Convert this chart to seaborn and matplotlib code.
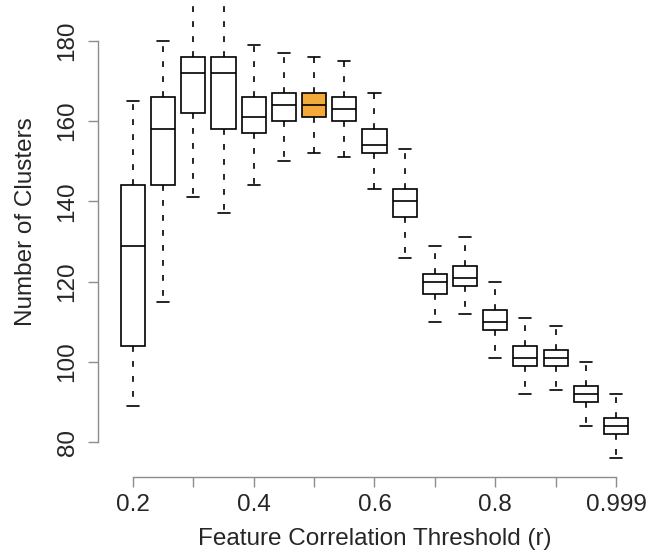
"""boxplot of cluster counts per feature correlation threshold"""
import matplotlib

matplotlib.use("Agg")
import matplotlib.pyplot as plt
import pandas as pd
import seaborn as sns

# values
thresholds = ["0.2", "0.25", "0.3", "0.35", "0.4", "0.45", "0.5", "0.55", "0.6",
              "0.65", "0.7", "0.75", "0.8", "0.85", "0.9", "0.95", "0.999"]
whisker_lo = [89, 115, 141, 137, 144, 150, 152, 151, 143, 126, 110, 112, 101, 92, 93, 84, 76]
q1 = [104, 144, 162, 158, 157, 160, 161, 160, 152, 136, 117, 119, 108, 99, 99, 90, 82]
median = [129, 158, 172, 172, 161, 164, 164, 163, 154, 140, 120, 121, 110, 101, 101, 92, 84]
q3 = [144, 166, 176, 176, 166, 167, 167, 166, 158, 143, 122, 124, 113, 104, 103, 94, 86]
whisker_hi = [165, 180, 196, 199, 179, 177, 176, 175, 167, 153, 129, 131, 120, 111, 109, 100, 92]
highlight = "0.5"
x_labels = ["0.2", "", "0.4", "", "0.6", "", "0.8", "", "0.999"]

# five points per threshold give exact quartiles and whisker ends
rows = []
for i, t in enumerate(thresholds):
    for v in (whisker_lo[i], q1[i], median[i], q3[i], whisker_hi[i]):
        rows.append({"threshold": t, "clusters": v})
df = pd.DataFrame(rows)

palette = {t: ("#F4A93B" if t == highlight else "white") for t in thresholds}

sns.set_style("ticks")
plt.rcParams["font.family"] = ["Liberation Sans", "DejaVu Sans"]

W, H = 655, 558
fig = plt.figure(figsize=(W / 100, H / 100), dpi=100)
left, right, bottom = 113.7, 635.3, 477
ax = fig.add_axes([left / W, (H - bottom) / H, (right - left) / W, bottom / H])

sns.boxplot(
    data=df,
    x="threshold",
    y="clusters",
    hue="threshold",
    order=thresholds,
    palette=palette,
    saturation=1,
    legend=False,
    whis=(0, 100),
    width=0.8,
    linecolor="black",
    linewidth=1.2,
    whiskerprops={"linestyle": (0, (3.5, 5.5))},
    ax=ax,
)

ax.set_xlim(-0.64, 16.64)
ax.set_ylim(71.3, 190.2)

for s in ["top", "right"]:
    ax.spines[s].set_visible(False)
for s in ["left", "bottom"]:
    ax.spines[s].set_color("#8c8c8c")
    ax.spines[s].set_linewidth(1.0)
ax.spines["left"].set_position(("outward", 11.3))
ax.spines["left"].set_bounds(80, 180)
ax.spines["bottom"].set_bounds(0, 16)

ax.set_xticks(range(0, 17, 2))
ax.set_xticklabels(x_labels)
ax.set_yticks(range(80, 181, 20))
ax.tick_params(axis="both", length=7.5, width=1.0, color="#8c8c8c",
               labelsize=17.5, labelcolor="#262626", pad=4.5)
ax.tick_params(axis="y", pad=6.5)
plt.setp(ax.get_yticklabels(), rotation=90, va="center")

ax.set_xlabel("Feature Correlation Threshold (r)", fontsize=17.5, color="#262626")
ax.set_ylabel("Number of Clusters", fontsize=17.5, color="#262626")
ax.xaxis.set_label_coords(0.5, -51 / bottom)
ax.yaxis.set_label_coords(-(left - 37) / (right - left), 1 - 222 / bottom)

fig.savefig("out.png", dpi=100)
